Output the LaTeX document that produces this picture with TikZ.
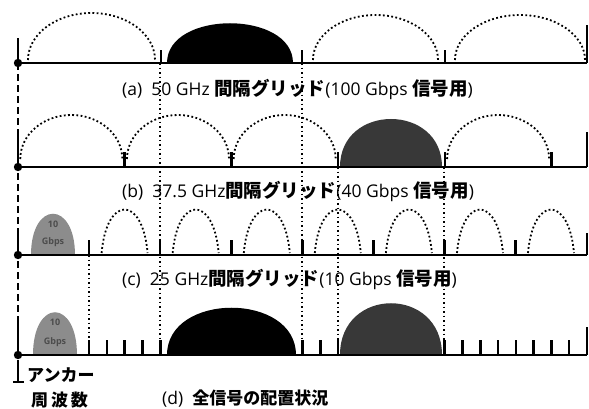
\documentclass[tikz,border=0pt]{standalone}
\usepackage{fontspec}
\setmainfont{Open Sans}
\newfontfamily\cjk{Noto Sans CJK JP}
\newcommand\J[1]{{\cjk\bfseries\fontsize{18.5}{20}\selectfont #1}}
\begin{document}
\begin{tikzpicture}[x=1pt,y=-1pt,
  baseln/.style={line width=2.6pt},
  tickmk/.style={line width=2.6pt},
  arcdot/.style={line width=1.8pt,dash pattern=on 1.8pt off 2.4pt},
  guide/.style={line width=1.9pt,dash pattern=on 1.9pt off 2.6pt},
  anchordash/.style={line width=1.6pt,dash pattern=on 7pt off 4pt},
  lbl/.style={anchor=base west,inner sep=0pt,font=\fontsize{17.5}{19}\selectfont},
  gbps/.style={inner sep=0pt,font=\bfseries\fontsize{9}{9}\selectfont,text=black!70},
  tengray/.style={fill=black!45},
  fortygray/.style={fill=black!78}]
\useasboundingbox (0,0) rectangle (589,408);

% rows baselines
\def\ya{63}\def\yb{167}\def\yc{255}\def\yd{355}

% anchor dashed line and bracket
\coordinate (anc top) at (18,\ya);
\coordinate (anc bot) at (18,366);
\coordinate (brk) at (18,382);
\coordinate (brk l) at (13,382);
\coordinate (brk r) at (24,382);
\draw[anchordash] (anc top) -- (anc bot);
\draw[line width=1.4pt] (anc bot) -- (brk);
\draw[line width=1.4pt] (brk l) -- (brk r);

% vertical guides
\foreach \n/\x/\yt in {g1/160/\ya, g2/302/\ya, g3/89/\yc, g4/338/\yb, g5/444/\yb}{
  \coordinate (\n t) at (\x,\yt);
  \coordinate (\n b) at (\x,340);
  \draw[guide] (\n t) -- (\n b);
}

% ---------- (a) ----------
\draw[arcdot] (28,60) arc[start angle=180,end angle=360,x radius=63.5,y radius=47];
\fill (167,\ya) .. controls (167,10) and (293,10) .. (293,\ya) -- cycle;
\draw[arcdot] (313,60) arc[start angle=180,end angle=360,x radius=62.5,y radius=45];
\draw[arcdot] (455,60) arc[start angle=180,end angle=360,x radius=65,y radius=45];
\draw[baseln] (18,\ya) -- (587,\ya);
\draw[tickmk] (18,38) -- (18,\ya);
\foreach \x in {161,302,445}{\draw[tickmk] (\x,50) -- (\x,\ya);}
\draw[tickmk] (587,25) -- (587,\ya);
\fill (18,\ya) circle (4.2);
\node[lbl] (la) at (122,95) {(a)\ \ 50 GHz \J{間隔グリッド}(100 Gbps \J{信号用})};

% ---------- (b) ----------
\foreach \c in {71.3,178,284.7,498.1}{
  \draw[arcdot] (\c-51,159) arc[start angle=180,end angle=360,x radius=51,y radius=44];
}
\fill[fortygray] (340,\yb) .. controls (340,103) and (442,103) .. (442,\yb) -- cycle;
\draw[baseln] (18,\yb) -- (587,\yb);
\draw[tickmk] (18,131) -- (18,\yb);
\foreach \x in {124.7,231.4,338.1,444.8,551.4}{\draw[tickmk] (\x,152) -- (\x,\yb);}
\draw[tickmk] (587,132) -- (587,\yb);
\fill (18,\yb) circle (4.2);
\node[lbl] (lb) at (122,197) {(b)\ \ 37.5 GHz\J{間隔グリッド}(40 Gbps \J{信号用})};

% ---------- (c) ----------
\foreach \c in {124.6,195.7,266.8,337.8,408.9,480,551}{
  \draw[arcdot] (\c-23,253) .. controls (\c-18,195) and (\c+18,195) .. (\c+23,253);
}
\fill[tengray] (31,\yc) .. controls (31,200) and (75,200) .. (75,\yc) -- cycle;
\node[gbps] (tc1) at (53,224) {10};
\node[gbps] (tc2) at (53,242) {Gbps};
\draw[baseln] (18,\yc) -- (587,\yc);
\draw[tickmk] (18,229) -- (18,\yc);
\foreach \x in {89.1,160.1,231.2,302.2,373.3,444.4,515.5}{\draw[tickmk] (\x,240) -- (\x,\yc);}
\draw[tickmk] (587,233) -- (587,\yc);
\fill (18,\yc) circle (4.2);
\node[lbl] (lc) at (122,285) {(c)\ \ 25 GHz\J{間隔グリッド}(10 Gbps \J{信号用})};

% ---------- (d) ----------
\fill[tengray] (33,\yd) .. controls (33,298) and (77,298) .. (77,\yd) -- cycle;
\node[gbps] (td1) at (55,322) {10};
\node[gbps] (td2) at (55,342) {Gbps};
\fill (167,\yd) .. controls (167,292) and (296,292) .. (296,\yd) -- cycle;
\fill[fortygray] (340,\yd) .. controls (340,286) and (442,286) .. (442,\yd) -- cycle;
\draw[baseln] (18,\yd) -- (587,\yd);
\draw[tickmk] (18,323) -- (18,\yd);
\foreach \k in {4,5,...,8,16,17,18,24,25,...,31}{\draw[tickmk] (18+\k*17.78,340) -- (18+\k*17.78,\yd);}
\draw[tickmk] (587,327) -- (587,\yd);
\fill (18,\yd) circle (4.2);
\node[lbl] (ld) at (162,404) {(d)\ \ {\cjk\bfseries\fontsize{17}{19}\selectfont 全信号の配置状況}};

\node[lbl] (anc1) at (27,381) {{\cjk\bfseries\fontsize{17}{19}\selectfont アンカー}};
\node[lbl] (anc2) at (31,406) {{\cjk\bfseries\fontsize{17}{19}\selectfont 周\,波\,数}};
\end{tikzpicture}
\end{document}
